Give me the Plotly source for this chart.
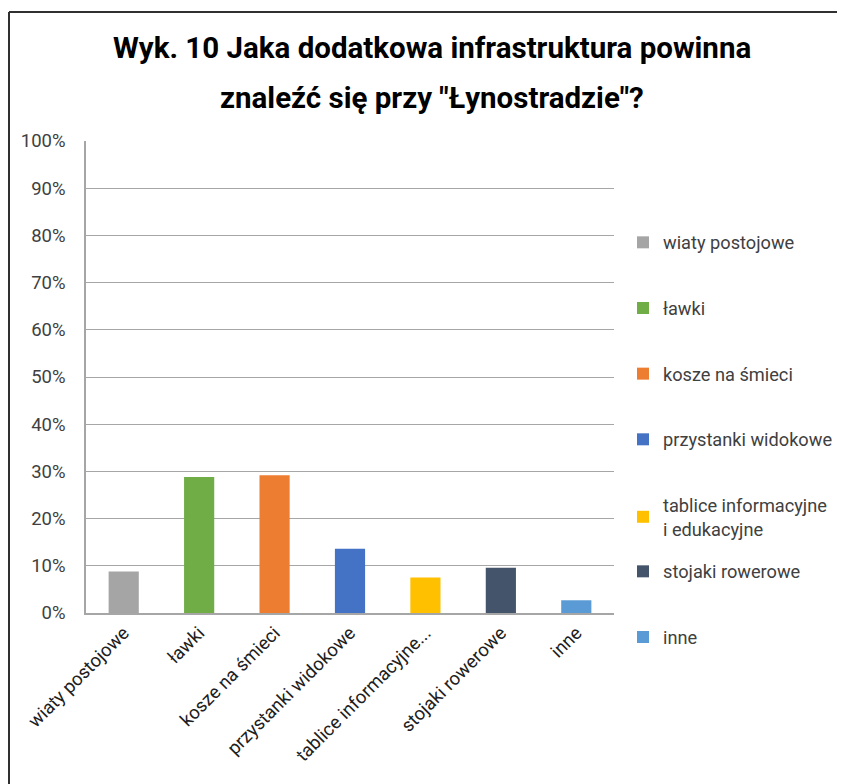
"""
Wyk. 10 - additional infrastructure at "Łynostrada" (bar chart, one colour per category).
"""

import plotly.graph_objects as go

CATEGORIES = [
    "wiaty postojowe",
    "ławki",
    "kosze na śmieci",
    "przystanki widokowe",
    "tablice informacyjne...",
    "stojaki rowerowe",
    "inne",
]
LEGEND_NAMES = [
    "wiaty postojowe",
    "ławki",
    "kosze na śmieci",
    "przystanki widokowe",
    "tablice informacyjne<br>i edukacyjne",
    "stojaki rowerowe",
    "inne",
]
VALUES = [0.088, 0.288, 0.292, 0.136, 0.075, 0.096, 0.027]
COLORS = ["#A5A5A5", "#70AD47", "#ED7D31", "#4472C4", "#FFC000", "#44546A", "#5B9BD5"]

Y_TICKS = [i / 10 for i in range(11)]

FONT = "Roboto, 'Liberation Sans', sans-serif"
TEXT_COLOR = "#404040"
GRID_COLOR = "#A6A6A6"

# the page body adds an 8px margin, so the figure is a bit smaller than the window
OFF = 8
W, H = 845 - OFF, 784 - OFF
M_L, M_R, M_T, M_B = 86 - OFF, 845 - 614, 141 - OFF, 784 - 613
PW, PH = W - M_L - M_R, H - M_T - M_B


def px_x(x):
    return (x - OFF - M_L) / PW


def px_y(y):
    return 1 - (y - OFF - M_T) / PH


fig = go.Figure()
for i, (cat, name, val, col) in enumerate(zip(CATEGORIES, LEGEND_NAMES, VALUES, COLORS)):
    fig.add_trace(go.Bar(
        x=[cat],
        y=[val],
        name=name,
        legendgroup=name,
        legend="legend" if i < 5 else "legend2",
        marker_color=col,
        marker_line_width=0,
        width=0.4,
        hovertemplate=f"<b>{cat}</b>: %{{y:.1%}}<extra></extra>",
    ))

for text, y in [("Wyk. 10 Jaka dodatkowa infrastruktura powinna", 48),
                ("znaleźć się przy \"Łynostradzie\"?", 98)]:
    fig.add_annotation(
        text=f"<b>{text}</b>",
        xref="paper", yref="paper", x=px_x(432), y=px_y(y),
        xanchor="center", yanchor="middle",
        showarrow=False, font=dict(family=FONT, size=29.5, color="#000000"),
    )

# frame around the chart (only top and left edges are visible in the crop)
fig.add_shape(type="line", xref="paper", yref="paper",
              x0=px_x(9), x1=px_x(860), y0=px_y(12), y1=px_y(12),
              line=dict(color="#303030", width=2))
fig.add_shape(type="line", xref="paper", yref="paper",
              x0=px_x(9), x1=px_x(9), y0=px_y(12), y1=px_y(800),
              line=dict(color="#303030", width=2))

LEGEND_STYLE = dict(
    xanchor="left",
    yanchor="top",
    traceorder="grouped",
    tracegroupgap=39,
    font=dict(size=18.2, color=TEXT_COLOR),
    itemwidth=30,
)

fig.update_layout(
    width=W,
    height=H,
    barmode="overlay",
    margin=dict(l=M_L, r=M_R, t=M_T, b=M_B, autoexpand=False),
    font=dict(family=FONT, size=18.5, color=TEXT_COLOR),
    plot_bgcolor="white",
    paper_bgcolor="white",
    xaxis=dict(
        categoryorder="array",
        categoryarray=CATEGORIES,
        tickangle=-45,
        showline=True,
        linecolor=GRID_COLOR,
        linewidth=1.5,
        ticks="",
        tickfont=dict(size=18.5, color="#202020"),
    ),
    yaxis=dict(
        range=[0, 1],
        tickvals=Y_TICKS,
        tickformat=".0%",
        showgrid=True,
        gridcolor=GRID_COLOR,
        showline=True,
        linecolor=GRID_COLOR,
        linewidth=1.5,
        ticks="",
        ticklabelstandoff=15,
        zeroline=False,
        tickfont=dict(size=18.5, color=TEXT_COLOR),
    ),
    legend=dict(x=px_x(623), y=px_y(224), **LEGEND_STYLE),
    legend2=dict(x=px_x(623), y=px_y(553), **LEGEND_STYLE),
)

fig.write_html("out.html")
